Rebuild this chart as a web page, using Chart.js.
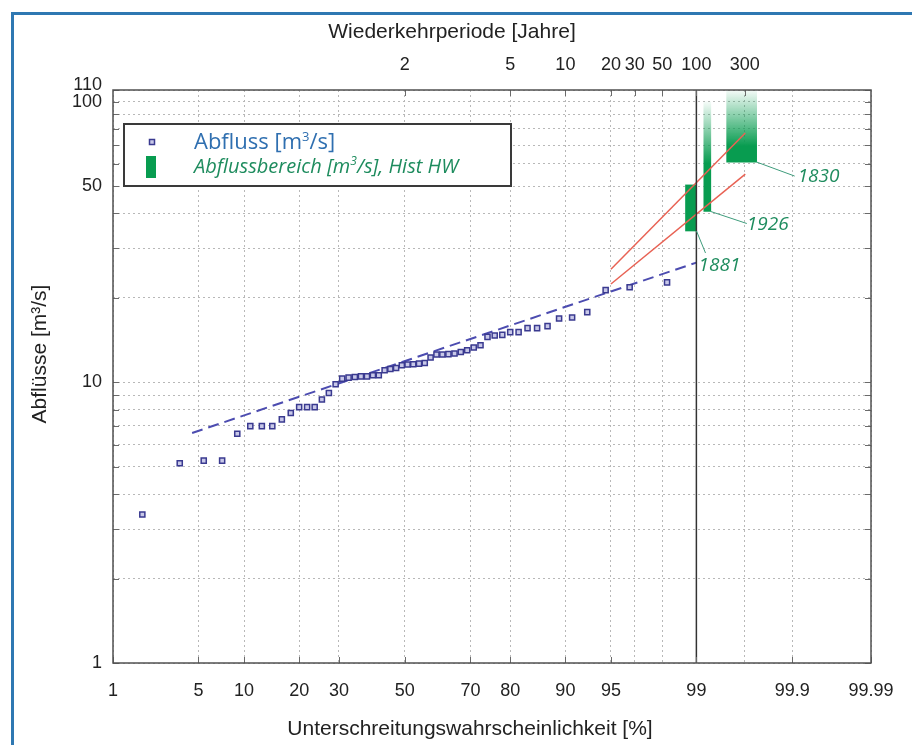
<!DOCTYPE html>
<html>
<head>
<meta charset="utf-8">
<script src="https://cdn.jsdelivr.net/npm/chart.js@4.4.1/dist/chart.umd.min.js"></script>
<style>
  html, body { margin: 0; padding: 0; background: #fff; }
  #wrap { position: relative; width: 912px; height: 745px; overflow: hidden; background: #fff; }
  #edge { position: absolute; left: 11px; top: 12px; width: 1000px; height: 1000px;
          border-left: 3px solid #2f78b2; border-top: 3px solid #2f78b2; }
  canvas { position: absolute; left: 0; top: 0; }
</style>
</head>
<body>
<div id="wrap">
  <div id="edge"></div>
  <canvas id="c" width="912" height="745"></canvas>
</div>
<script>
// Ranked annual peak discharges with their non-exceedance probabilities (%)
const probPct = [1.82, 3.64, 5.45, 7.27, 9.09, 10.91, 12.73, 14.55, 16.36, 18.18,
                 20.00, 21.82, 23.64, 25.45, 27.27, 29.09, 30.91, 32.73, 34.55, 36.36,
                 38.18, 40.00, 41.82, 43.64, 45.45, 47.27, 49.09, 50.91, 52.73, 54.55,
                 56.36, 58.18, 60.00, 61.82, 63.64, 65.45, 67.27, 69.09, 70.91, 72.73,
                 74.55, 76.36, 78.18, 80.00, 81.82, 83.64, 85.45, 87.27, 89.09, 90.91,
                 92.73, 94.55, 96.36, 98.18];
const abfluss = [3.38, 5.15, 5.26, 5.26, 6.56, 6.98, 6.98, 6.98, 7.38, 7.77,
                 8.16, 8.16, 8.16, 8.69, 9.16, 9.84, 10.31, 10.39, 10.44, 10.50,
                 10.50, 10.59, 10.59, 11.04, 11.16, 11.25, 11.50, 11.57, 11.60, 11.66,
                 11.72, 12.25, 12.56, 12.56, 12.60, 12.66, 12.83, 13.00, 13.30, 13.56,
                 14.52, 14.68, 14.76, 15.09, 15.09, 15.60, 15.60, 15.85, 16.88, 17.02,
                 17.78, 21.30, 21.80, 22.70];

// Fitted distribution (dashed) and the two extrapolation lines (red)
const fitProb = [4.5, 99];
const fitQ = [6.6, 26.7];
const bandProb = [95, 99.67];
const bandUpper = [25.3, 77.3];
const bandLower = [22.4, 55.2];

// Historic floods: discharge ranges
const histYears = ['1881', '1926', '1830'];
const histProb = [98.88, 99.21, 99.64];
const histLow = [34.6, 40.6, 60.9];
const histHigh = [50.5, 100, 110];

// Axis ticks
const xTickPct = [1, 5, 10, 20, 30, 50, 70, 80, 90, 95, 99, 99.9, 99.99];
const xTickLabels = ['1', '5', '10', '20', '30', '50', '70', '80', '90', '95', '99', '99.9', '99.99'];
const returnPeriods = [2, 5, 10, 20, 30, 50, 100, 300];
const yTickValues = [1, 2, 3, 4, 5, 6, 7, 8, 9, 10, 20, 30, 40, 50, 60, 70, 80, 90, 100, 110];
const yTickShown = [1, 10, 50, 100, 110];

// Styling of the historic range bars
const histThickness = [11, 7, 30];
const histFade = [0, 0.56, 0.78];
const GREEN = 'rgb(8,156,80)';
const TEXT_GREEN = '#1e8c5e';

// Inverse standard normal CDF (Acklam) -> normal probability paper
function probit(p) {
  const a = [-3.969683028665376e+01, 2.209460984245205e+02, -2.759285104469687e+02,
             1.383577518672690e+02, -3.066479806614716e+01, 2.506628277459239e+00];
  const b = [-5.447609879822406e+01, 1.615858368580409e+02, -1.556989798598866e+02,
             6.680131188771972e+01, -1.328068155288572e+01];
  const c = [-7.784894002430293e-03, -3.223964580411365e-01, -2.400758277161838e+00,
             -2.549732539343734e+00, 4.374664141464968e+00, 2.938163982698783e+00];
  const d = [7.784695709041462e-03, 3.224671290700398e-01, 2.445134137142996e+00,
             3.754408661907416e+00];
  const pl = 0.02425, ph = 1 - pl;
  let q, r;
  if (p < pl) {
    q = Math.sqrt(-2 * Math.log(p));
    return (((((c[0]*q+c[1])*q+c[2])*q+c[3])*q+c[4])*q+c[5]) / ((((d[0]*q+d[1])*q+d[2])*q+d[3])*q+1);
  }
  if (p > ph) {
    q = Math.sqrt(-2 * Math.log(1 - p));
    return -(((((c[0]*q+c[1])*q+c[2])*q+c[3])*q+c[4])*q+c[5]) / ((((d[0]*q+d[1])*q+d[2])*q+d[3])*q+1);
  }
  q = p - 0.5; r = q * q;
  return (((((a[0]*r+a[1])*r+a[2])*r+a[3])*r+a[4])*r+a[5])*q / (((((b[0]*r+b[1])*r+b[2])*r+b[3])*r+b[4])*r+1);
}
const zPct = v => probit(v / 100);

const pts = (ps, qs) => ps.map((p, i) => ({ x: zPct(p), y: qs[i] }));

function histBar(i) {
  return {
    type: 'bar',
    label: histYears[i],
    data: [{ x: zPct(histProb[i]), y: [histLow[i], histHigh[i]] }],
    barThickness: histThickness[i],
    stack: 'hist',
    borderWidth: 0,
    backgroundColor(ctx) {
      const chart = ctx.chart;
      if (!chart.chartArea || histFade[i] === 0) return GREEN;
      const ys = chart.scales.y;
      const top = ys.getPixelForValue(histHigh[i]);
      const bot = ys.getPixelForValue(histLow[i]);
      const g = chart.ctx.createLinearGradient(0, top, 0, bot);
      g.addColorStop(0, 'rgba(8,156,80,0.04)');
      g.addColorStop(histFade[i], 'rgba(8,156,80,1)');
      g.addColorStop(1, 'rgba(8,156,80,1)');
      return g;
    },
    order: 3
  };
}

const LABEL_FONT = { family: 'Liberation Sans', size: 18 };

const decor = {
  id: 'decor',
  afterDatasetsDraw(chart) {
    const { ctx, chartArea: a } = chart;
    ctx.save();
    // short inside ticks along the frame
    ctx.strokeStyle = '#6a6a6a';
    ctx.lineWidth = 1;
    ctx.beginPath();
    chart.scales.y.ticks.forEach((t, i) => {
      const y = Math.round(chart.scales.y.getPixelForTick(i)) + 0.5;
      ctx.moveTo(a.left, y); ctx.lineTo(a.left + 6, y);
      ctx.moveTo(a.right, y); ctx.lineTo(a.right - 6, y);
    });
    chart.scales.x.ticks.forEach((t, i) => {
      const x = Math.round(chart.scales.x.getPixelForTick(i)) + 0.5;
      ctx.moveTo(x, a.bottom); ctx.lineTo(x, a.bottom - 6);
    });
    chart.scales.xTop.ticks.forEach((t, i) => {
      const x = Math.round(chart.scales.xTop.getPixelForTick(i)) + 0.5;
      ctx.moveTo(x, a.top); ctx.lineTo(x, a.top + 6);
    });
    ctx.stroke();
    // frame
    ctx.strokeStyle = '#505050';
    ctx.lineWidth = 1.5;
    ctx.strokeRect(a.left, a.top, a.right - a.left, a.bottom - a.top);
    ctx.restore();
  },
  afterDraw(chart) {
    const { ctx } = chart;
    ctx.save();
    // axis titles
    ctx.fillStyle = '#222';
    ctx.font = '21px "Liberation Sans"';
    ctx.textAlign = 'center';
    ctx.textBaseline = 'middle';
    ctx.fillText('Wiederkehrperiode [Jahre]', 452, 32);
    ctx.fillText('Unterschreitungswahrscheinlichkeit [%]', 470, 729);
    ctx.save();
    ctx.translate(40, 354);
    ctx.rotate(-Math.PI / 2);
    ctx.fillText('Abflüsse [m³/s]', 0, 0);
    ctx.restore();

    // legend
    ctx.fillStyle = '#fff';
    ctx.fillRect(124, 124, 387, 62);
    ctx.strokeStyle = '#3a3a3a';
    ctx.lineWidth = 2;
    ctx.strokeRect(124, 124, 387, 62);
    ctx.strokeStyle = '#3a3a90';
    ctx.fillStyle = '#c8c8e8';
    ctx.lineWidth = 1.5;
    ctx.fillRect(149.5, 139.5, 5, 5);
    ctx.strokeRect(149.5, 139.5, 5, 5);
    ctx.fillStyle = GREEN;
    ctx.fillRect(146, 156, 10, 22);

    ctx.textAlign = 'left';
    ctx.textBaseline = 'alphabetic';
    const supText = (parts, x, y, font, supFont, color) => {
      ctx.fillStyle = color;
      let cx = x;
      parts.forEach(([txt, sup]) => {
        ctx.font = sup ? supFont : font;
        ctx.fillText(txt, cx, sup ? y - 8 : y);
        cx += ctx.measureText(txt).width;
      });
    };
    supText([['Abfluss [m', false], ['3', true], ['/s]', false]], 194, 149,
            '22px "Open Sans"', '13px "Open Sans"', '#2f6fb0');
    supText([['Abflussbereich [m', false], ['3', true], ['/s], Hist HW', false]], 194, 173,
            'italic 20px "Open Sans"', 'italic 12px "Open Sans"', TEXT_GREEN);

    // year labels with leader lines from the range bars
    const leaders = [[9, 22, 2, 34], [36, 12, 36, 12], [38, 14, 41, 14]];
    ctx.strokeStyle = '#3f9c7c';
    ctx.lineWidth = 1;
    ctx.font = 'italic 19px "Open Sans"';
    ctx.textBaseline = 'middle';
    ctx.fillStyle = TEXT_GREEN;
    histYears.forEach((yr, i) => {
      const meta = chart.getDatasetMeta(i);
      const el = meta.data[0];
      const x0 = el.x + el.width / 2;
      const y0 = el.base;
      const [dx, dy, tx, ty] = leaders[i];
      ctx.beginPath();
      ctx.moveTo(x0, y0);
      ctx.lineTo(x0 + dx, y0 + dy);
      ctx.stroke();
      ctx.fillText(yr, x0 + tx, y0 + ty + 1);
    });
    ctx.restore();
  }
};

const gridDash = [2, 3];
const GRID = '#b8b8b8';

new Chart(document.getElementById('c'), {
  type: 'scatter',
  data: {
    datasets: [
      histBar(0), histBar(1), histBar(2),
      {
        type: 'line', label: 'Anpassung', data: pts(fitProb, fitQ),
        borderColor: 'rgb(76,76,176)', borderWidth: 2, borderDash: [11, 6],
        pointRadius: 0, fill: false, order: 2
      },
      {
        type: 'line', label: 'oben', data: pts(bandProb, bandUpper),
        borderColor: 'rgb(232,98,84)', borderWidth: 1.5, pointRadius: 0, fill: false, order: 2
      },
      {
        type: 'line', label: 'unten', data: pts(bandProb, bandLower),
        borderColor: 'rgb(232,98,84)', borderWidth: 1.5, pointRadius: 0, fill: false, order: 2
      },
      {
        type: 'line', label: '99 %', data: [{ x: zPct(99), y: 1 }, { x: zPct(99), y: 110 }],
        borderColor: '#333', borderWidth: 1.5, pointRadius: 0, fill: false, order: 1
      },
      {
        type: 'scatter', label: 'Abfluss [m³/s]', data: pts(probPct, abfluss),
        pointStyle: 'rect', pointRadius: 3.6, pointBorderWidth: 1.5,
        pointBorderColor: '#3a3a90', pointBackgroundColor: '#c8c8e8', order: 0
      }
    ]
  },
  options: {
    responsive: false,
    animation: false,
    devicePixelRatio: 1,
    layout: { padding: { left: 0, right: 41, top: 0, bottom: 0 } },
    plugins: { legend: { display: false }, tooltip: { enabled: false } },
    scales: {
      x: {
        type: 'linear', position: 'bottom', min: zPct(1), max: zPct(99.99), offset: false,
        afterBuildTicks: s => { s.ticks = xTickPct.map(v => ({ value: zPct(v) })); },
        afterFit: s => { s.height = 82; },
        ticks: {
          autoSkip: false, maxRotation: 0, minRotation: 0, padding: 17,
          color: '#222', font: LABEL_FONT,
          callback: (v, i) => xTickLabels[i]
        },
        grid: { color: GRID, lineWidth: 1, drawTicks: false, offset: false },
        border: { display: false, dash: gridDash }
      },
      xTop: {
        type: 'linear', position: 'top', min: zPct(1), max: zPct(99.99), offset: false,
        afterBuildTicks: s => { s.ticks = returnPeriods.map(T => ({ value: probit(1 - 1 / T) })); },
        afterFit: s => { s.height = 90; },
        ticks: {
          autoSkip: false, maxRotation: 0, minRotation: 0, padding: 14,
          color: '#222', font: LABEL_FONT,
          callback: (v, i) => String(returnPeriods[i])
        },
        grid: { color: GRID, lineWidth: 1, drawTicks: false, offset: false },
        border: { display: false, dash: gridDash }
      },
      y: {
        type: 'logarithmic', min: 1, max: 110, stacked: false,
        afterBuildTicks: s => { s.ticks = yTickValues.map(v => ({ value: v })); },
        afterFit: s => { s.width = 113; },
        ticks: {
          autoSkip: false, padding: 11, color: '#222',
          font: c => (c.tick && c.tick.value === 110
            ? { family: 'Liberation Sans', size: 18, lineHeight: '10px' }
            : LABEL_FONT),
          callback: v => (v === 110 ? ['110', ''] : (yTickShown.includes(v) ? String(v) : ''))
        },
        grid: { color: GRID, lineWidth: 1, drawTicks: false },
        border: { display: false, dash: gridDash }
      }
    }
  },
  plugins: [decor]
});
</script>
</body>
</html>
